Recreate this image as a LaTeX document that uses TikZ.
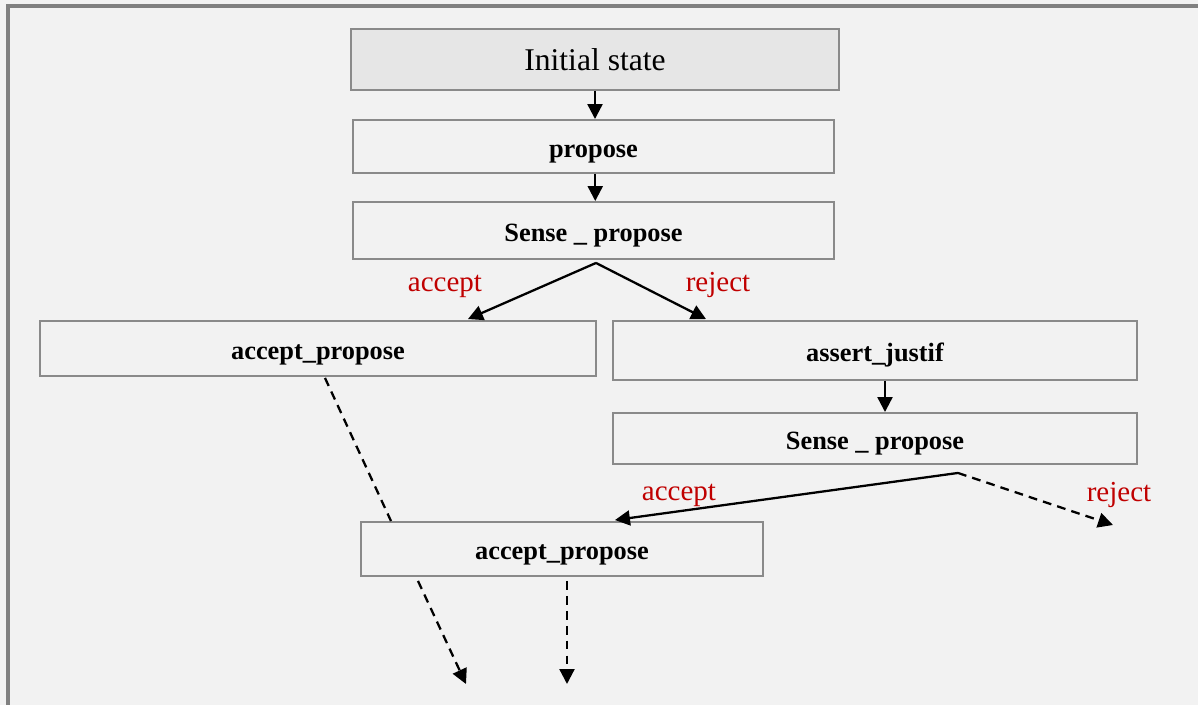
\documentclass[tikz,border=0pt]{standalone}
\usepackage{fontspec}
\setmainfont{Liberation Serif}
\usetikzlibrary{arrows.meta}

\begin{document}
\begin{tikzpicture}[x=0.02cm, y=-0.02cm,
    box/.style={draw=boxgray, line width=1.1pt, fill=paper, inner sep=0pt,
                text height=12pt, text depth=0pt,
                font=\bfseries\fontsize{15}{18}\selectfont},
    flow/.style={-{Triangle[length=8.5pt,width=8.5pt]}, line width=1.3pt},
    maybe/.style={flow, dash pattern=on 5pt off 3.5pt},
    choice/.style={anchor=base, text=choicered, font=\fontsize{16.5}{20}\selectfont}]

    % Colours of the sheet
    \definecolor{paper}{HTML}{F2F2F2}
    \definecolor{boxgray}{HTML}{8A8A8A}
    \definecolor{startfill}{HTML}{E6E6E6}
    \definecolor{choicered}{HTML}{C00000}

    \useasboundingbox (0,0) rectangle (1198,705);

    % Background with its frame (right and bottom edges fall off the page)
    \begin{scope}
        \clip (0,0) rectangle (1198,705);
        \fill[paper] (0,0) rectangle (1198,705);
        \draw[draw=gray, line width=2.3pt, fill=paper] (8,6) rectangle (1215,720);
    \end{scope}

    % States
    \node[box, fill=startfill, font=\fontsize{18}{22}\selectfont,
          minimum width=9.76cm, minimum height=1.22cm] (init) at (595,59.5) {Initial state};
    \node[box, minimum width=9.62cm, minimum height=1.06cm] (prop) at (593.5,146.5) {propose};
    \node[box, minimum width=9.62cm, minimum height=1.14cm] (sense1) at (593.5,230.5) {Sense \_ propose};
    \node[box, minimum width=11.12cm, minimum height=1.1cm] (acc1) at (318,348.5) {accept\_propose};
    \node[box, minimum width=10.48cm, minimum height=1.18cm] (just) at (875,350.5) {assert\_justif};
    \node[box, minimum width=10.48cm, minimum height=1.02cm] (sense2) at (875,438.5) {Sense \_ propose};
    \node[box, minimum width=8.04cm, minimum height=1.08cm] (acc2) at (562,549) {accept\_propose};

    % Branch points and loose ends
    \coordinate (fork1) at ([shift={(2.5,3)}]sense1.south);
    \coordinate (fork2) at ([shift={(83,8)}]sense2.south);
    \coordinate (rejend) at (1113,525);
    \coordinate (outA) at (466,684);
    \coordinate (outB) at (567,684);

    % Straight chain
    \draw[flow] (init.south) -- (init.south |- prop.north);
    \draw[flow] ([xshift=1pt]prop.south) -- ([xshift=1pt]sense1.north);
    \draw[flow] ([shift={(10,0)}]just.south) -- ([shift={(10,0)}]sense2.north);

    % First choice
    \draw[flow] (fork1) -- ([shift={(150,-1)}]acc1.north);
    \draw[flow] (fork1) -- ([shift={(-169,-1)}]just.north);
    \node[choice] (acc1lbl) at (445,292) {accept};
    \node[choice] (rej1lbl) at (718,292) {reject};

    % Second choice
    \draw[flow] (fork2) -- ([shift={(53,-1)}]acc2.north);
    \draw[maybe] (fork2) -- (rejend);
    \node[choice] (acc2lbl) at (679,501) {accept};
    \node[choice] (rej2lbl) at (1119,502) {reject};

    % Dashed continuations
    \draw[line width=1.3pt, dash pattern=on 5pt off 3.5pt]
        ([shift={(7,1)}]acc1.south) -- ([shift={(-171,0)}]acc2.north);
    \draw[maybe] ([shift={(-144,4)}]acc2.south) -- (outA);
    \draw[maybe] ([shift={(5,4)}]acc2.south) -- (outB);

\end{tikzpicture}
\end{document}
